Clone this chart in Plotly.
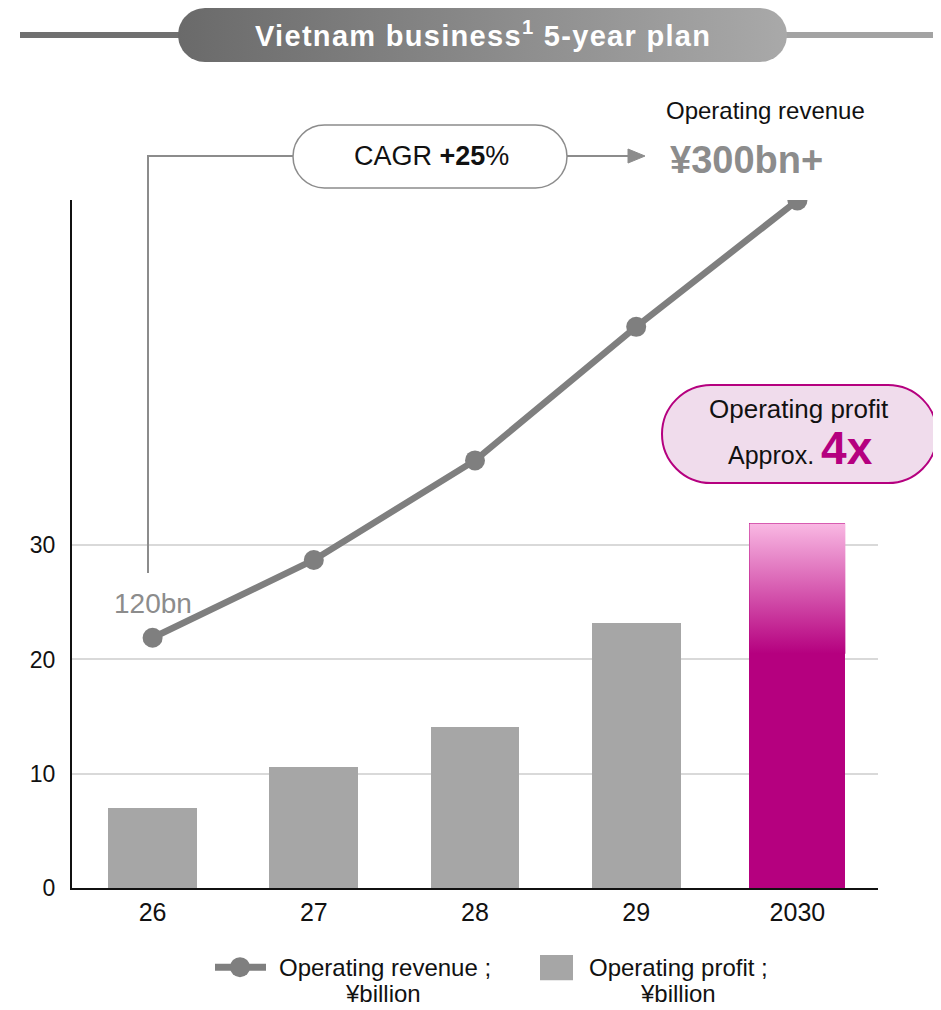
import numpy as np
import plotly.graph_objects as go

# ---------------- data ----------------
years = ["26", "27", "28", "29", "2030"]
revenue = [120, 152, 193, 248, 300]          # Operating revenue, ¥billion
profit = [7.0, 10.6, 14.1, 23.2, 31.9]       # Operating profit, ¥billion
y_ticks = [0, 10, 20, 30]

W, H = 941, 1010
OFFX, OFFY = 8, 8   # page body margin compensation
SY = 0.987          # observed vertical render scale compensation
FONT = "Liberation Sans, Arial, sans-serif"
GRAY_LINE = "#7f7f7f"
GRAY_BAR = "#a6a6a6"
MAGENTA = "#b5007f"
PINK = "#f9b8e3"
ANN_GRAY = "#8c8c8c"
TXT = "#111111"

# plot area in page pixels
PL, PR, PT, PB = 72, 878, 200, 888

def fy(py):
    """page pixel y -> figure pixel y"""
    return (py - OFFY) / SY

xi = list(range(len(years)))
bar_widths = [0.55, 0.55, 0.55, 0.55, 0.595]

fig = go.Figure()

# bars
bar_colors = [GRAY_BAR] * (len(years) - 1) + [MAGENTA]
fig.add_trace(go.Bar(x=xi, y=profit, width=bar_widths, marker=dict(color=bar_colors, line=dict(width=0)),
                     showlegend=False, hoverinfo="skip", xaxis="x", yaxis="y"))

# gradient top for the last bar
last = len(years) - 1
hw = bar_widths[last] / 2
g_lo = 20.5
gx = [last - hw, last + hw, last + hw, last - hw, last - hw]
gy = [g_lo, g_lo, profit[last], profit[last], g_lo]
fig.add_trace(go.Scatter(x=gx, y=gy, mode="lines", line=dict(width=0), fill="toself",
                         fillgradient=dict(type="vertical", colorscale=[[0, MAGENTA], [1, PINK]]),
                         showlegend=False, hoverinfo="skip", xaxis="x", yaxis="y"))

# revenue line
fig.add_trace(go.Scatter(x=xi, y=revenue, mode="lines+markers",
                         line=dict(color=GRAY_LINE, width=6.5),
                         marker=dict(color=GRAY_LINE, size=20),
                         showlegend=False, hoverinfo="skip", xaxis="x", yaxis="y2"))

# ---------- overlay pixel axes (x3/y3) for decorations ----------
def pill(x0, y0, x1, y1, n=30):
    r = (y1 - y0) / 2
    cy = (y0 + y1) / 2
    t1 = np.linspace(-np.pi / 2, np.pi / 2, n)
    right_x = x1 - r + r * np.cos(t1)
    right_y = cy + r * np.sin(t1)
    t2 = np.linspace(np.pi / 2, 3 * np.pi / 2, n)
    left_x = x0 + r + r * np.cos(t2)
    left_y = cy + r * np.sin(t2)
    xs = np.concatenate([right_x, left_x, right_x[:1]])
    ys = np.concatenate([right_y, left_y, right_y[:1]])
    return xs, ys

def pill_path(x0, y0, x1, y1):
    r = (y1 - y0) / 2
    k = 0.5523 * r
    return (f"M {x0 + r},{y0} L {x1 - r},{y0} "
            f"C {x1 - r + k},{y0} {x1},{y0 + r - k} {x1},{y0 + r} "
            f"C {x1},{y0 + r + k} {x1 - r + k},{y1} {x1 - r},{y1} "
            f"L {x0 + r},{y1} "
            f"C {x0 + r - k},{y1} {x0},{y0 + r + k} {x0},{y0 + r} "
            f"C {x0},{y0 + r - k} {x0 + r - k},{y0} {x0 + r},{y0} Z")

# banner pill with horizontal gradient
bx, by = pill(178, 8, 787, 62)
fig.add_trace(go.Scatter(x=bx, y=by, mode="lines", line=dict(width=0), fill="toself",
                         fillgradient=dict(type="horizontal", colorscale=[[0, "#6a6a6a"], [1, "#a9a9a9"]]),
                         showlegend=False, hoverinfo="skip", xaxis="x3", yaxis="y3"))

# legend symbols
fig.add_trace(go.Scatter(x=[215, 266], y=[967, 967], mode="lines", line=dict(color=GRAY_LINE, width=7),
                         showlegend=False, hoverinfo="skip", xaxis="x3", yaxis="y3"))
fig.add_trace(go.Scatter(x=[240], y=[967], mode="markers", marker=dict(color=GRAY_LINE, size=20),
                         showlegend=False, hoverinfo="skip", xaxis="x3", yaxis="y3"))

shapes = []
# banner side lines
shapes.append(dict(type="line", xref="x3", yref="y3", x0=20, x1=180, y0=35, y1=35,
                   line=dict(color="#707070", width=6), layer="below"))
shapes.append(dict(type="line", xref="x3", yref="y3", x0=785, x1=949, y0=35, y1=35,
                   line=dict(color="#a3a3a3", width=6), layer="below"))
# CAGR connector
shapes.append(dict(type="path", xref="x3", yref="y3",
                   path="M 148,573 L 148,156 L 293,156", line=dict(color=ANN_GRAY, width=2)))
shapes.append(dict(type="line", xref="x3", yref="y3", x0=567, x1=632, y0=156, y1=156,
                   line=dict(color=ANN_GRAY, width=2)))
shapes.append(dict(type="path", xref="x3", yref="y3", path="M 628,149 L 645,156 L 628,163 Z",
                   fillcolor=ANN_GRAY, line=dict(color=ANN_GRAY, width=1)))
# CAGR pill
shapes.append(dict(type="path", xref="x3", yref="y3", path=pill_path(293, 125, 567, 188),
                   fillcolor="white", line=dict(color=ANN_GRAY, width=1.5)))
# Operating profit pill
shapes.append(dict(type="path", xref="x3", yref="y3", path=pill_path(662, 385, 937, 483),
                   fillcolor="#f0dcec", line=dict(color=MAGENTA, width=2)))
# legend square
shapes.append(dict(type="rect", xref="x3", yref="y3", x0=540, x1=573, y0=955, y1=980,
                   fillcolor=GRAY_BAR, line=dict(width=0)))

ann = []
def A(x, y, text, size, color=TXT, xanchor="center", yanchor="middle", align="center"):
    ann.append(dict(x=x, y=y, xref="x3", yref="y3", text=text, showarrow=False,
                    font=dict(family=FONT, size=size, color=color),
                    xanchor=xanchor, yanchor=yanchor, align=align))

A(483, 34, "<b><span style='letter-spacing:1.3px'>Vietnam business<sup>1</sup> 5-year plan</span></b>", 29, "white")
A(765, 110, "Operating revenue", 24)
A(746, 160, "<b>¥300bn+</b>", 38, ANN_GRAY)
A(431, 156, "CAGR <b>+25</b>%", 27)
A(153, 603, "120bn", 28, ANN_GRAY)
A(799, 409, "Operating profit", 26)
A(800, 448, "Approx. <b><span style='font-size:46px;color:#b5007f'>4x</span></b>", 25)
A(385, 967, "Operating revenue ;", 24)
A(383, 993, "¥billion", 24)
A(678, 967, "Operating profit ;", 24)
A(678, 993, "¥billion", 24)

fig.update_layout(
    width=W, height=H,
    margin=dict(l=0, r=0, t=0, b=0),
    paper_bgcolor="white", plot_bgcolor="rgba(0,0,0,0)",
    font=dict(family=FONT, color=TXT),
    showlegend=False,
    bargap=0,
    xaxis=dict(domain=[(PL - OFFX) / W, (PR - OFFX) / W], range=[-0.5, len(years) - 0.5],
               tickvals=xi, ticktext=years, showgrid=False, zeroline=False,
               showline=True, linecolor="#111111", linewidth=2, ticks="", ticklabelstandoff=1,
               tickfont=dict(size=25, family=FONT, color=TXT), anchor="y", fixedrange=True),
    yaxis=dict(domain=[1 - fy(PB) / H, 1 - fy(PT) / H], range=[0, (PB - PT) / 11.43],
               tickvals=y_ticks, showgrid=True, gridcolor="#d9d9d9", gridwidth=1.5,
               zeroline=False, showline=True, linecolor="#111111", linewidth=2, ticks="",
               ticklabelstandoff=10,
               tickfont=dict(size=23, family=FONT, color=TXT), anchor="x", fixedrange=True),
    yaxis2=dict(overlaying="y", range=[16.9, 300.2], visible=False, showgrid=False, anchor="x"),
    xaxis3=dict(domain=[0, 1], range=[OFFX, W + OFFX], visible=False, anchor="y3"),
    yaxis3=dict(domain=[0, 1], range=[OFFY + H * SY, OFFY], visible=False, anchor="x3"),
    shapes=shapes,
    annotations=ann,
)

fig.write_html("out.html")
